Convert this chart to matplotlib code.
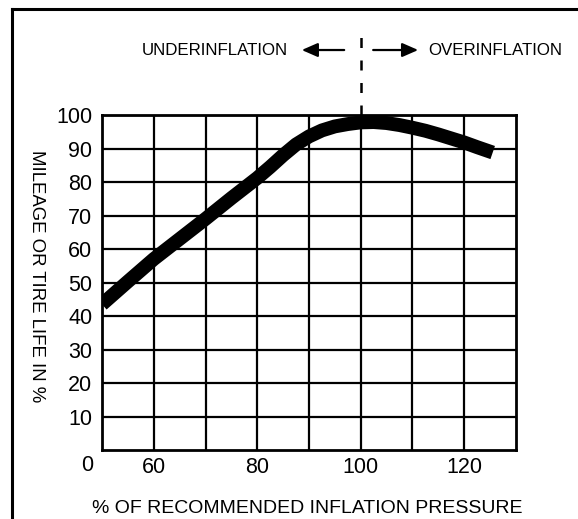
import matplotlib as mpl
from matplotlib import pyplot as plt
from matplotlib.lines import Line2D

mpl.rcParams['font.family'] = ['Liberation Sans', 'DejaVu Sans']

# curve
pressure_x = [50, 55, 60, 65, 70, 75, 80, 82.5, 85, 87.5, 90, 92.5, 95, 97.5,
              100, 102.5, 105, 107.5, 110, 112.5, 115, 117.5, 120, 122.5, 125.5]
life_y = [43.5, 50.3, 57, 63, 69, 75.2, 81.2, 84.5, 88, 91.2, 93.6, 95.4, 96.6,
          97.3, 97.8, 97.9, 97.6, 97.0, 96.2, 95.3, 94.2, 93.0, 91.8, 90.4, 88.8]

x_major = [60, 80, 100, 120]
x_minor = [70, 90, 110]
y_ticks = [10, 20, 30, 40, 50, 60, 70, 80, 90, 100]

fig = plt.figure(figsize=(5.78, 5.19), dpi=100)
ax = fig.add_axes([0.1765, 0.1329, 0.7162, 0.6455])

ax.plot(pressure_x, life_y, color='black', lw=10, solid_capstyle='butt',
        solid_joinstyle='round', zorder=3)

ax.set_xlim(50, 130)
ax.set_ylim(0, 100)
ax.set_xticks(x_major)
ax.set_xticks(x_minor, minor=True)
ax.set_yticks(y_ticks)
ax.tick_params(which='both', length=0, labelsize=15.5)
ax.tick_params(axis='x', pad=5)
ax.tick_params(axis='y', pad=7)
ax.grid(True, which='both', color='black', lw=1.6)
for s in ax.spines.values():
    s.set_linewidth(2)

# the lone "0" at the origin
ax.text(-0.037, -0.045, '0', transform=ax.transAxes, ha='center', va='center',
        fontsize=15.5)

ax.set_xlabel('% OF RECOMMENDED INFLATION PRESSURE', fontsize=14)
ax.xaxis.set_label_coords(0.495, -0.150)
ax.set_ylabel('MILEAGE OR TIRE LIFE IN %', fontsize=13.4, rotation=-90,
              va='center')
ax.yaxis.set_label_coords(-0.159, 0.519)

# dashed divider at 100 %
ax.plot([100, 100], [100, 126], color='black', lw=1.8, ls=(0, (4, 5)),
        clip_on=False)
ax.text(85.9, 119.4, 'UNDERINFLATION', ha='right', va='center', fontsize=12.2)
ax.text(113.0, 119.4, 'OVERINFLATION', ha='left', va='center', fontsize=12.2)
arrow = dict(arrowstyle='-|>,head_length=0.8,head_width=0.35', color='black',
             lw=1.6, mutation_scale=12, shrinkA=0, shrinkB=0)
ax.annotate('', xy=(88.6, 119.4), xytext=(96.8, 119.4), annotation_clip=False,
            arrowprops=arrow)
ax.annotate('', xy=(111.1, 119.4), xytext=(102.4, 119.4), annotation_clip=False,
            arrowprops=arrow)

# outer frame (cropped at right and bottom)
fig.add_artist(Line2D([12.5 / 578, 1], [1 - 9 / 519, 1 - 9 / 519],
                      color='black', lw=2.2))
fig.add_artist(Line2D([12.5 / 578, 12.5 / 578], [0, 1 - 9 / 519],
                      color='black', lw=2.2))

fig.savefig('out.png', dpi=100)
